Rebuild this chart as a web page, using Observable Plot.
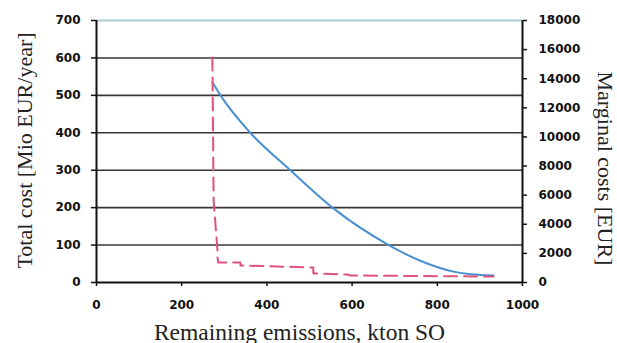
<!DOCTYPE html>
<html><head><meta charset="utf-8">
<script src="https://cdn.jsdelivr.net/npm/d3@7"></script>
<script src="https://cdn.jsdelivr.net/npm/@observablehq/plot@0.6"></script>
<style>body{margin:0;background:#fff} svg{display:block}</style>
</head><body><div id="chart"></div>
<script>
// Total cost curve (left axis, Mio EUR/year)
const costX = [272, 291, 361, 455, 554, 686, 760, 838, 880, 932];
const costY = [535, 500, 400, 300, 200, 100, 58, 29, 22, 19];
// Marginal cost curve (right axis, EUR)
const mcX = [272, 275, 284, 284, 286, 338, 338, 509, 509, 589, 596, 932];
const mcY = [15450, 5630, 2200, 1720, 1370, 1370, 1170, 1030, 620, 550, 480, 410];

const xTicks = [0, 200, 400, 600, 800, 1000];
const leftTicks = [0, 100, 200, 300, 400, 500, 600, 700];
const rightTicks = [0, 2000, 4000, 6000, 8000, 10000, 12000, 14000, 16000, 18000];
const leftMax = 700, rightMax = 18000;
const K = leftMax / rightMax;

const cost = costX.map((x, i) => ({x, y: costY[i]}));
const mc = mcX.map((x, i) => ({x, y: mcY[i]}));

const tickFont = "DejaVu Sans";
const titleFont = "Liberation Serif";

const chart = Plot.plot({
  width: 617, height: 343,
  marginLeft: 96, marginRight: 95, marginTop: 20, marginBottom: 61,
  style: {background: "#fff", fontFamily: tickFont, fontSize: "12px", fontWeight: "bold", color: "#111", overflow: "visible"},
  x: {domain: [0, 1000]},
  y: {domain: [0, leftMax]},
  marks: [
    Plot.ruleY(leftTicks.filter(d => d > 0 && d < leftMax), {stroke: "#3d3535", strokeWidth: 1.6}),
    Plot.ruleY([leftMax], {stroke: "#a9cfd0", strokeWidth: 1.8}),
    Plot.line(cost, {x: "x", y: "y", curve: "monotone-x", stroke: "#4a90d0", strokeWidth: 2}),
    Plot.line(mc, {x: "x", y: d => d.y * K, stroke: "#e0527e", strokeWidth: 2, strokeDasharray: "13,7"}),
    Plot.ruleY([0], {stroke: "#111", strokeWidth: 2}),
    Plot.ruleX([0, 1000], {stroke: "#111", strokeWidth: 2}),
    Plot.axisX({ticks: xTicks, tickFormat: d => String(d), tickSize: 4, tickPadding: 14, label: null, stroke: "#111", strokeWidth: 1.5, fontWeight: "bold"}),
    Plot.axisY({anchor: "left", ticks: leftTicks, tickFormat: d => String(d), tickSize: 5, tickPadding: 11, label: null, stroke: "#111", strokeWidth: 1.5, fontWeight: "bold"}),
    Plot.axisY({anchor: "right", ticks: rightTicks.map(v => v * K), tickFormat: d => String(Math.round(d / K)), tickSize: 4, tickPadding: 12, label: null, stroke: "#111", strokeWidth: 1.5, fontWeight: "bold"}),
    Plot.text(["Total cost [Mio EUR/year]"], {frameAnchor: "left", textAnchor: "middle", dx: -72, dy: -1, rotate: -90, lineAnchor: "middle", fontFamily: titleFont, fontSize: 22, fontWeight: "normal", fill: "#222"}),
    Plot.text(["Marginal costs [EUR]"], {frameAnchor: "right", textAnchor: "middle", dx: 83, dy: 17, rotate: 90, lineAnchor: "middle", fontFamily: titleFont, fontSize: 22, fontWeight: "normal", fill: "#222"}),
    Plot.text(["Remaining emissions, kton SO"], {frameAnchor: "bottom", textAnchor: "middle", dx: -10, dy: 57, lineAnchor: "bottom", fontFamily: titleFont, fontSize: 23.5, fontWeight: "normal", fill: "#222"})
  ]
});
document.getElementById("chart").appendChild(chart);
</script>
</body></html>
